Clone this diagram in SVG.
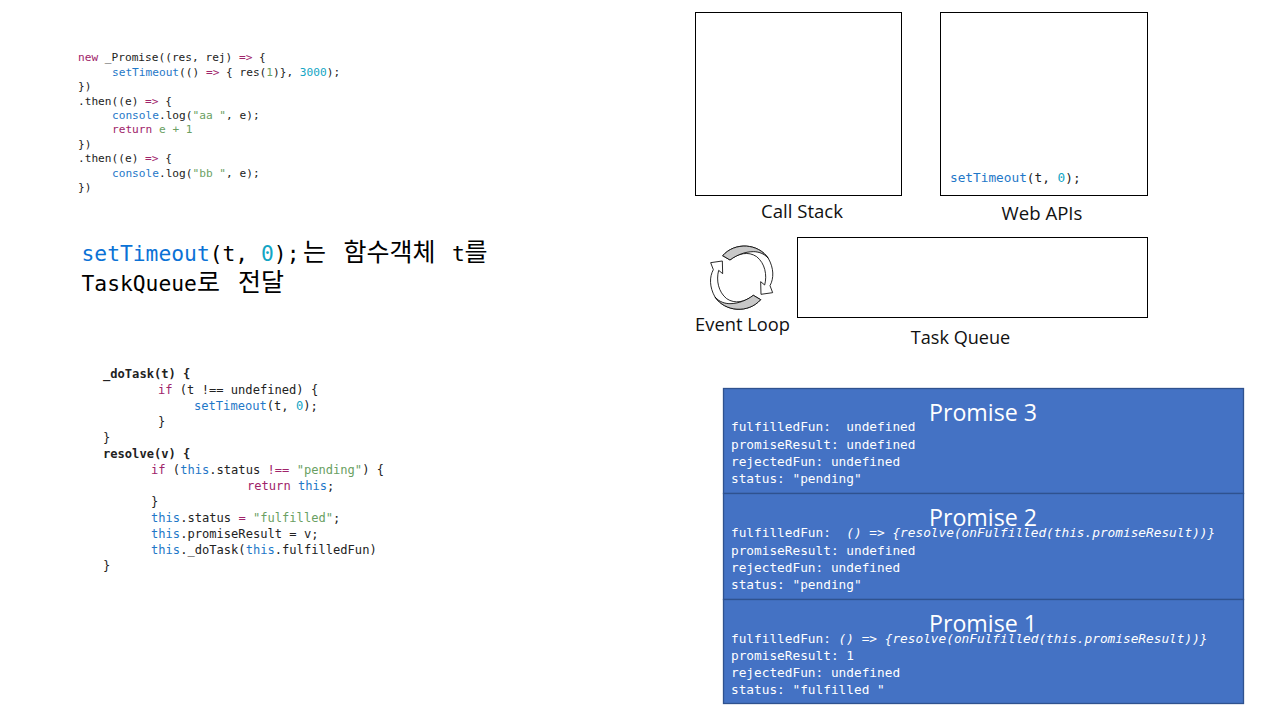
<svg xmlns="http://www.w3.org/2000/svg" width="1280" height="720" viewBox="0 0 1280 720">
<style>
text{white-space:pre}
.m{font-family:"DejaVu Sans Mono","Liberation Mono","Noto Sans CJK KR",monospace}
.c1{font-size:11.15px;fill:#222}
.c2{font-size:12.1px;fill:#222}
.b{font-weight:bold}
.k{fill:#a0246a}.f{fill:#1f78c8}.n{fill:#12a5c4}.s{fill:#6a9f62}
.box{fill:#fff;stroke:#000;stroke-width:1}
.lab{font-family:"Open Sans","Noto Sans",sans-serif;font-size:18.6px;fill:#111;text-anchor:middle}
.p{fill:#4472c4;stroke:#2f528f;stroke-width:1.3}
.pt{font-family:"Open Sans","Noto Sans",sans-serif;font-size:23.2px;fill:#fff;text-anchor:middle}
.pl{font-size:12.77px;fill:#fff}
.i{font-style:italic}
.h{font-size:21.3px;fill:#000}
.ko{font-family:"Noto Sans CJK KR",sans-serif;font-size:25px}
</style>
<g id="code-top" class="m c1">
<text x="78" y="61"><tspan class="k">new</tspan> _Promise((res, rej) <tspan class="k">=&gt;</tspan> {</text>
<text x="112" y="76"><tspan class="f">setTimeout</tspan>(() <tspan class="k">=&gt;</tspan> { res(<tspan class="s">1</tspan>)}, <tspan class="n">3000</tspan>);</text>
<text x="78" y="90">})</text>
<text x="78" y="105">.then((e) <tspan class="k">=&gt;</tspan> {</text>
<text x="112" y="119"><tspan class="f">console</tspan>.log(<tspan class="s">"aa "</tspan>, e);</text>
<text x="112" y="133"><tspan class="k">return</tspan> <tspan class="s">e + 1</tspan></text>
<text x="78" y="148">})</text>
<text x="78" y="162">.then((e) <tspan class="k">=&gt;</tspan> {</text>
<text x="112" y="177"><tspan class="f">console</tspan>.log(<tspan class="s">"bb "</tspan>, e);</text>
<text x="78" y="191">})</text>
</g>
<g id="caption" class="m h">
<text x="81.500" y="261"><tspan fill="#0b72d6">setTimeout</tspan>(t, <tspan class="n">0</tspan>);<tspan class="ko" x="303">는</tspan> <tspan class="ko" x="343.500">함수객체</tspan> <tspan x="452">t</tspan><tspan class="ko" x="464.500">를</tspan></text>
<text x="81.500" y="291">TaskQueue<tspan class="ko" x="197">로</tspan> <tspan class="ko" x="238">전달</tspan></text>
</g>
<g id="code-bottom" class="m c2">
<text class="b" x="103" y="378">_doTask(t) {</text>
<text x="158" y="394"><tspan class="k">if</tspan> (t !== undefined) {</text>
<text x="194" y="410"><tspan class="f">setTimeout</tspan>(t, <tspan class="n">0</tspan>);</text>
<text x="158" y="426">}</text>
<text x="103" y="442">}</text>
<text class="b" x="103" y="458">resolve(v) {</text>
<text x="151" y="474"><tspan class="k">if</tspan> (<tspan class="f">this</tspan>.status <tspan class="k">!==</tspan> <tspan class="s">"pending"</tspan>) {</text>
<text x="247" y="490"><tspan class="k">return</tspan> <tspan class="f">this</tspan>;</text>
<text x="151" y="506">}</text>
<text x="151" y="522"><tspan class="f">this</tspan>.status <tspan class="k">=</tspan> <tspan class="s">"fulfilled"</tspan>;</text>
<text x="151" y="538"><tspan class="f">this</tspan>.promiseResult = v;</text>
<text x="151" y="554"><tspan class="f">this</tspan>._doTask(<tspan class="f">this</tspan>.fulfilledFun)</text>
<text x="103" y="570">}</text>
</g>
<g id="call-stack">
<rect class="box" x="695.500" y="12.500" width="206" height="183"/>
<text class="lab" x="802" y="218">Call Stack</text>
</g>
<g id="web-apis">
<rect class="box" x="940.500" y="12.500" width="207" height="183"/>
<text class="m pl" x="950" y="182" style="fill:#222"><tspan class="f">setTimeout</tspan>(t, <tspan class="n">0</tspan>);</text>
<text class="lab" x="1042" y="220">Web APIs</text>
</g>
<defs>
<g id="loop-arrow">
<path fill="#fff" d="M98 62C135 20 205 25 235 70C252 100 252 130 240 152L248 173L213 178L212 140L224 150C232 120 225 85 200 65C175 48 145 55 120 75Z"/>
<path fill="#c8c8c8" d="M98 62C135 20 205 25 235 70C222 55 205 50 190 50C165 50 140 60 120 75Z"/>
</g>
</defs>
<g id="event-loop">
<g transform="translate(690 235) scale(.3333)" stroke="#000" stroke-width="2.500" stroke-linejoin="round">
<use href="#loop-arrow"/>
<use href="#loop-arrow" transform="rotate(180 155 128)"/>
</g>
<text class="lab" x="742.500" y="331" style="font-size:18.300px">Event Loop</text>
</g>
<g id="task-queue">
<rect class="box" x="797.500" y="237.500" width="350" height="80"/>
<text class="lab" x="960.500" y="344" style="font-size:18.100px">Task Queue</text>
</g>
<g id="promise-3">
<rect class="p" x="723.500" y="388.500" width="520" height="105"/>
<text class="pt" x="983" y="421">Promise 3</text>
<g class="m pl">
<text x="731" y="431">fulfilledFun:  undefined</text>
<text x="731" y="449">promiseResult: undefined</text>
<text x="731" y="466">rejectedFun: undefined</text>
<text x="731" y="483">status: "pending"</text>
</g>
</g>
<g id="promise-2">
<rect class="p" x="723.500" y="493.500" width="520" height="106"/>
<text class="pt" x="983" y="526">Promise 2</text>
<g class="m pl">
<text x="731" y="537">fulfilledFun:  <tspan class="i">() =&gt; {resolve(onFulfilled(this.promiseResult))}</tspan></text>
<text x="731" y="555">promiseResult: undefined</text>
<text x="731" y="572">rejectedFun: undefined</text>
<text x="731" y="589">status: "pending"</text>
</g>
</g>
<g id="promise-1">
<rect class="p" x="723.500" y="599.500" width="520" height="104"/>
<text class="pt" x="983" y="632">Promise 1</text>
<g class="m pl">
<text x="731" y="643">fulfilledFun: <tspan class="i">() =&gt; {resolve(onFulfilled(this.promiseResult))}</tspan></text>
<text x="731" y="660">promiseResult: 1</text>
<text x="731" y="677">rejectedFun: undefined</text>
<text x="731" y="694">status: "fulfilled "</text>
</g>
</g>
</svg>
